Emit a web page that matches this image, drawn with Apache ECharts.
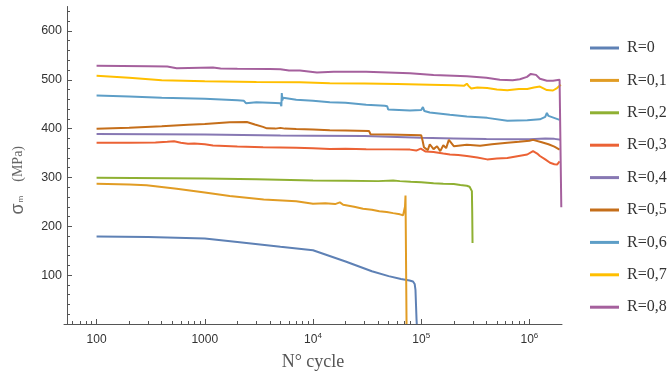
<!DOCTYPE html>
<html><head><meta charset="utf-8">
<script src="https://cdn.jsdelivr.net/npm/echarts@6/dist/echarts.min.js"></script>
<style>html,body{margin:0;padding:0;background:#fff}#c{width:671px;height:376px}</style>
</head><body><div id="c"></div>
<script>
const seriesNames = ['R=0','R=0,1','R=0,2','R=0,3','R=0,4','R=0,5','R=0,6','R=0,7','R=0,8'];
const colors = ['#5E81B5','#E19C24','#8FB032','#EB6235','#8778B3','#C56E1A','#5D9EC7','#FFBF00','#A5609D'];

const xMajorTicks = [100, 1000, 10000, 100000, 1000000];
const xMinorTicks = [60,70,80,90,200,300,400,500,600,700,800,900,2000,3000,4000,5000,6000,7000,8000,9000,
  20000,30000,40000,50000,60000,70000,80000,90000,200000,300000,400000,500000,600000,700000,800000,900000];
const yMajorTicks = [100, 200, 300, 400, 500, 600];
const yMinorTicks = [20,40,60,80,120,140,160,180,220,240,260,280,320,340,360,380,420,440,460,480,520,540,560,580,620,640];

// R=0
const r0N = [100, 300, 1000, 2000, 5000, 10000, 20000, 35000, 50000, 65000, 78000, 84000, 87000, 88500, 89500, 90500, 91000];
const r0V = [179, 178, 175, 168, 158, 151, 128, 108, 98, 92, 89, 87, 82, 70, 40, 10, 0];
// R=0,1
const r1N = [100, 200, 290, 550, 1000, 1700, 3500, 7000, 10000, 13000, 16000, 17700, 19000, 24000, 29000, 35000, 41000, 48000, 55000, 63500, 68000, 70000, 70800, 71600, 72600, 73200];
const r1V = [287, 285.5, 284, 277, 269, 262, 255, 251.5, 246, 247, 245.5, 249, 244, 240, 236, 234, 231, 229.5, 227, 224.5, 222.5, 224, 240, 263, 262, 0];
// R=0,2
const r2N = [100, 1000, 3000, 10000, 20000, 40000, 55000, 63500, 80000, 100000, 130000, 160000, 200000, 230000, 264000, 280000, 290000, 294000, 296000, 298000];
const r2V = [299.5, 298, 296.5, 294, 293.5, 292.5, 294, 292.5, 291, 290, 288, 287, 286.5, 284.5, 283, 281, 278, 272, 230, 166];
// R=0,3
const r3N = [100, 200, 350, 450, 520, 600, 700, 800, 1000, 1190, 2000, 3460, 5000, 7000, 10000, 14300, 20000, 31000, 50000, 78700, 90000, 99000, 110000, 130000, 160000, 184000, 220000, 264000, 330000, 407000, 500000, 625000, 750000, 955000, 1080000, 1180000, 1250000, 1400000, 1550000, 1700000, 1800000, 1900000];
const r3V = [371, 371, 371.5, 373, 374, 371, 369, 369.5, 368, 365.5, 363.5, 362, 361.5, 361, 360, 358.5, 359, 358, 357.5, 357, 355, 359, 353, 352, 349, 347, 346, 344, 341, 337, 339, 340, 343, 347, 354, 349, 344, 337, 330, 327, 326.5, 333];
// R=0,4
const r4N = [100, 1000, 5000, 10000, 30000, 100000, 200000, 400000, 700000, 1000000, 1400000, 1700000, 1950000];
const r4V = [389, 388, 386, 385.5, 385, 381.5, 380, 378.5, 378, 378, 380, 379, 377];
// R=0,5
const r5N = [100, 200, 400, 700, 1000, 1700, 2450, 2900, 3450, 3750, 4500, 5000, 5500, 7000, 10000, 14300, 20000, 33000, 34000, 50000, 80000, 100000, 103000, 106000, 110000, 115000, 120000, 130000, 140000, 150000, 160000, 170000, 180000, 200000, 264000, 350000, 450000, 625000, 800000, 1000000, 1080000, 1300000, 1500000, 1700000, 1900000];
const r5V = [399.5, 402, 405, 408, 409.5, 413, 413.5, 408.5, 403.5, 400.5, 400, 401.5, 400, 399, 398, 396.5, 396, 395, 388.5, 388, 387, 386.5, 375, 362, 366, 356, 368, 358, 364, 354, 366, 360, 377, 364, 367, 365, 368, 371, 373, 375, 377, 372, 368, 363, 357];
// R=0,6
const r6N = [100, 200, 400, 1000, 2000, 2300, 2400, 2500, 3000, 4500, 5000, 5100, 5150, 5200, 5300, 7000, 10000, 14300, 20000, 31000, 46000, 48500, 49500, 78700, 100000, 103700, 107000, 120000, 184000, 264000, 407000, 625000, 955000, 1250000, 1400000, 1450000, 1500000, 1550000, 1900000];
const r6V = [468, 466, 463, 461, 458, 457, 452, 455, 454, 452.5, 452, 446, 473, 458, 463, 459, 457, 454, 453, 449, 447, 446, 439, 437, 438, 444, 436, 433, 428.5, 425, 422, 416, 417, 419, 424, 432, 426, 422, 418];
// R=0,7
const r7N = [100, 200, 400, 1000, 3000, 7570, 14300, 30000, 60000, 120000, 200000, 250000, 264000, 275000, 290000, 330000, 407000, 500000, 625000, 800000, 955000, 1100000, 1250000, 1450000, 1650000, 1800000, 1950000];
const r7V = [508, 504, 499, 497, 495.5, 495, 493, 492.5, 491.5, 490, 489, 488, 492, 487, 482, 484, 483, 480, 478.5, 481, 481, 484, 486, 479, 478, 483, 490];
// R=0,8
const r8N = [100, 300, 450, 550, 1190, 1400, 2000, 4000, 5000, 6000, 7570, 10870, 15500, 31000, 78700, 130000, 264000, 400000, 533000, 700000, 816000, 950000, 1030000, 1150000, 1250000, 1450000, 1650000, 1900000, 1970000, 1970000];
const r8V = [528.5, 527.5, 527, 523.5, 525, 523, 522.5, 522, 521.5, 519, 519, 515, 516.5, 516.5, 513.5, 510, 507, 504, 500, 499, 501, 506, 512, 510, 502, 498, 498, 500, 500, 239];

const allN = [r0N, r1N, r2N, r3N, r4N, r5N, r6N, r7N, r8N];
const allV = [r0V, r1V, r2V, r3V, r4V, r5V, r6V, r7V, r8V];

const chart = echarts.init(document.getElementById('c'), null, {renderer: 'canvas'});
const sup = {'10000':'4','100000':'5','1000000':'6'};
const tickColor = '#555';
const labelColor = '#333';

const option = {
  animation: false,
  color: colors,
  grid: {left: 64, right: 109, top: 6.5, bottom: 51, containLabel: false},
  legend: {
    orient: 'vertical', left: 585, top: 35,
    itemWidth: 29, itemHeight: 3, itemGap: 16.4, icon: 'rect',
    selectedMode: false,
    data: seriesNames,
    textStyle: {fontFamily: 'Liberation Serif', fontSize: 16, color: '#333', lineHeight: 16, padding: [0,0,0,3]}
  },
  xAxis: [{
    type: 'log', logBase: 10, min: 50, max: 2000000,
    name: 'N° cycle', nameLocation: 'middle', nameGap: 29,
    nameTextStyle: {fontFamily: 'Liberation Serif', fontSize: 18, color: '#555'},
    axisLine: {show: true, onZero: false, lineStyle: {color: tickColor, width: 1}},
    axisTick: {show: true, inside: true, length: 5, customValues: xMajorTicks, lineStyle: {color: tickColor}},
    splitLine: {show: false},
    axisLabel: {
      customValues: xMajorTicks, margin: 8, color: labelColor,
      fontFamily: 'Liberation Sans', fontSize: 12,
      formatter: function (v) {
        const k = String(Math.round(v));
        if (sup[k]) return '{b|10}{s|' + sup[k] + '}';
        return '{b|' + k + '}';
      },
      rich: {
        b: {fontFamily: 'Liberation Sans', fontSize: 12, color: labelColor, lineHeight: 16},
        s: {fontFamily: 'Liberation Sans', fontSize: 8, color: labelColor, verticalAlign: 'top', lineHeight: 10, padding: [0,0,6,0]}
      }
    }
  }, {
    type: 'log', logBase: 10, min: 50, max: 2000000, position: 'bottom',
    axisLine: {show: false},
    axisTick: {show: true, inside: true, length: 3, customValues: xMinorTicks, lineStyle: {color: tickColor}},
    axisLabel: {show: false}, splitLine: {show: false}
  }],
  yAxis: [{
    type: 'value', min: 0, max: 650, interval: 100, offset: -3,
    name: '{s|σ}{m|m}{g| }{p|(MPa)}', nameLocation: 'middle', nameGap: 40, nameRotate: 90,
    nameTextStyle: {
      color: '#666', padding: [0, 30, 0, 0],
      rich: {
        s: {fontFamily: 'Liberation Sans', fontSize: 18, color: '#666'},
        m: {fontFamily: 'Liberation Sans', fontSize: 8, color: '#666', padding: [6,0,0,1]},
        g: {fontSize: 14, width: 14},
        p: {fontFamily: 'Liberation Serif', fontSize: 14, color: '#666'}
      }
    },
    axisLine: {show: true, onZero: false, lineStyle: {color: tickColor, width: 1}},
    axisTick: {show: true, inside: true, length: 5, customValues: yMajorTicks, lineStyle: {color: tickColor}},
    axisLabel: {customValues: yMajorTicks, margin: 5, color: labelColor, fontFamily: 'Liberation Sans', fontSize: 12.5},
    splitLine: {show: false}
  }, {
    type: 'value', min: 0, max: 650, interval: 100, offset: -3, position: 'left',
    axisLine: {show: false},
    axisTick: {show: true, inside: true, length: 3, customValues: yMinorTicks, lineStyle: {color: tickColor}},
    axisLabel: {show: false}, splitLine: {show: false}
  }],
  series: seriesNames.map(function (name, i) {
    return {
      name: name, type: 'line', xAxisIndex: 0, yAxisIndex: 0,
      showSymbol: false, symbol: 'none',
      lineStyle: {width: 2, color: colors[i]},
      itemStyle: {color: colors[i]},
      data: allN[i].map(function (n, j) { return [n, allV[i][j]]; })
    };
  })
};
chart.setOption(option);
</script></body></html>
